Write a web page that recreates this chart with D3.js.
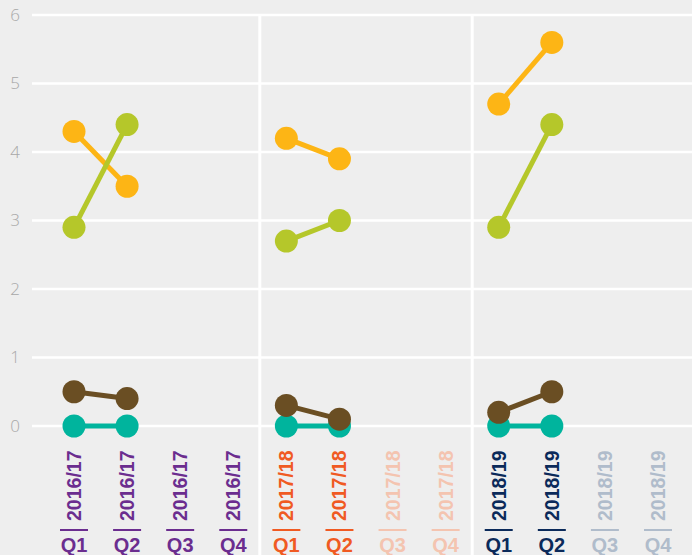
<!DOCTYPE html>
<html>
<head>
<meta charset="utf-8">
<script src="https://cdn.jsdelivr.net/npm/d3@7"></script>
<style>
  body { margin: 0; background: #eeeeee; }
  svg { display: block; }
</style>
</head>
<body>
<div id="chart"></div>
<script>
const years = ['2016/17', '2017/18', '2018/19'];
const quarters = ['Q1', 'Q2', 'Q3', 'Q4'];
const yTicks = [0, 1, 2, 3, 4, 5, 6];

// values per quarter, null = not yet reported
const orange = [4.3, 3.5, null, null, 4.2, 3.9, null, null, 4.7, 5.6, null, null];
const green  = [2.9, 4.4, null, null, 2.7, 3.0, null, null, 2.9, 4.4, null, null];
const brown  = [0.5, 0.4, null, null, 0.3, 0.1, null, null, 0.2, 0.5, null, null];
const teal   = [0, 0, null, null, 0, 0, null, null, 0, 0, null, null];

const series = [
  { color: '#00b49d', values: teal },
  { color: '#6a4e23', values: brown },
  { color: '#fdb515', values: orange },
  { color: '#b5c72a', values: green }
];

const yearColor = { '2016/17': ['#6b2d8f', '#6b2d8f'], '2017/18': ['#f05a22', '#f4c4b0'], '2018/19': ['#0b2a5a', '#b0bccb'] };

const keys = [];
years.forEach(y => quarters.forEach(q => keys.push({ year: y, q: q, key: y + ' ' + q })));

const width = 692, height = 555;

const svg = d3.select('#chart')
  .append('svg')
  .attr('width', width)
  .attr('height', height);

const x = d3.scalePoint().domain(keys.map(d => d.key)).range([74, 658]);
const y = d3.scaleLinear().domain([0, 6]).range([426, 15]);

// grid
svg.selectAll('.grid')
  .data(yTicks)
  .enter()
  .append('line')
  .attr('x1', 32)
  .attr('x2', width)
  .attr('y1', d => y(d))
  .attr('y2', d => y(d))
  .attr('stroke', '#ffffff')
  .attr('stroke-width', 2.5);

svg.selectAll('.ytick')
  .data(yTicks)
  .enter()
  .append('text')
  .attr('x', 20)
  .attr('y', d => y(d))
  .attr('dy', '0.35em')
  .attr('text-anchor', 'end')
  .attr('font-family', 'Open Sans, sans-serif')
  .attr('font-weight', 300)
  .attr('font-size', 17)
  .attr('fill', '#a8a8a8')
  .text(d => d);

// separators between years
const seps = [1, 2].map(i => (x(keys[i * 4 - 1].key) + x(keys[i * 4].key)) / 2);
svg.selectAll('.sep')
  .data(seps)
  .enter()
  .append('line')
  .attr('x1', d => d)
  .attr('x2', d => d)
  .attr('y1', y(6))
  .attr('y2', height)
  .attr('stroke', '#ffffff')
  .attr('stroke-width', 3);

// series: one segment per year
const line = d3.line()
  .defined(d => d.v != null)
  .x(d => x(d.key))
  .y(d => y(d.v));

series.forEach(s => {
  const pts = keys.map((k, i) => ({ key: k.key, v: s.values[i] }));
  years.forEach(yr => {
    const seg = pts.filter(p => p.key.startsWith(yr));
    svg.append('path')
      .attr('d', line(seg))
      .attr('fill', 'none')
      .attr('stroke', s.color)
      .attr('stroke-width', 5);
  });
  svg.selectAll(null)
    .data(pts.filter(p => p.v != null))
    .enter()
    .append('circle')
    .attr('cx', d => x(d.key))
    .attr('cy', d => y(d.v))
    .attr('r', 11.5)
    .attr('fill', s.color);
});

// x labels
const lab = svg.selectAll('.xlab')
  .data(keys)
  .enter()
  .append('g')
  .attr('transform', d => `translate(${x(d.key)},0)`);

const colorOf = d => {
  const c = yearColor[d.year];
  return (d.year === '2016/17' || d.q === 'Q1' || d.q === 'Q2') ? c[0] : c[1];
};

lab.append('text')
  .attr('transform', 'translate(0,521) rotate(-90)')
  .attr('dy', '0.36em')
  .attr('text-anchor', 'start')
  .attr('font-family', 'Liberation Sans, Arial, sans-serif')
  .attr('font-weight', 'bold')
  .attr('font-size', 19.5)
  .attr('fill', colorOf)
  .text(d => d.year);

lab.append('line')
  .attr('x1', -14)
  .attr('x2', 14)
  .attr('y1', 530)
  .attr('y2', 530)
  .attr('stroke', colorOf)
  .attr('stroke-width', 2);

lab.append('text')
  .attr('y', 552)
  .attr('text-anchor', 'middle')
  .attr('font-family', 'Liberation Sans, Arial, sans-serif')
  .attr('font-weight', 'bold')
  .attr('font-size', 20)
  .attr('fill', colorOf)
  .text(d => d.q);
</script>
</body>
</html>
